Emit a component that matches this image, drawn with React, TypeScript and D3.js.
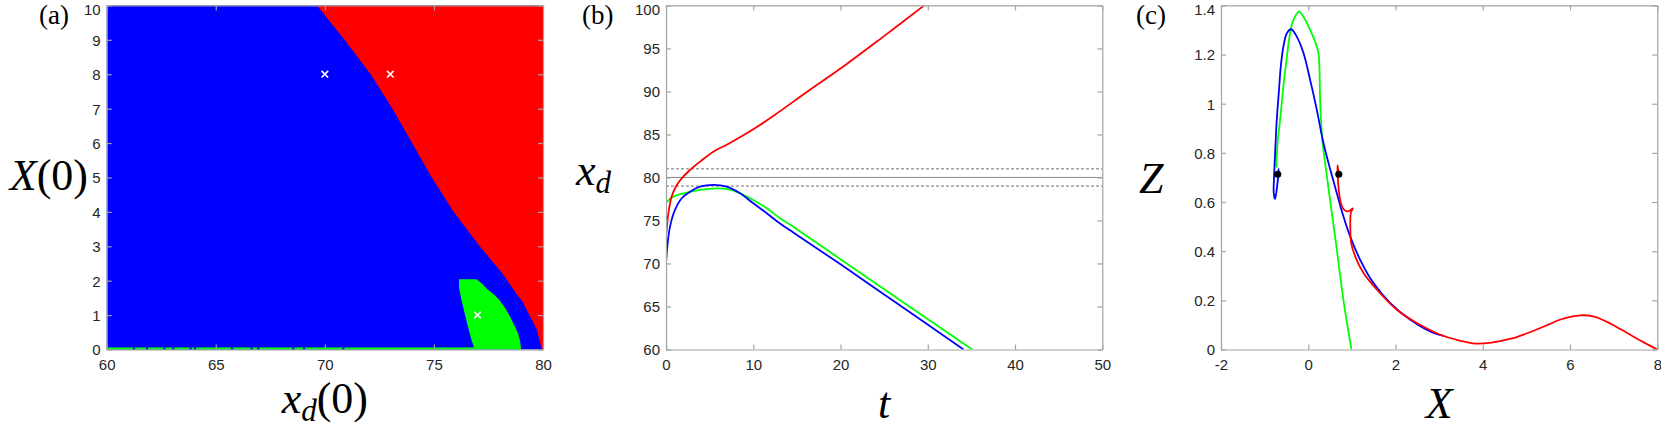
import React, { useEffect, useRef } from 'react';
import * as d3 from 'd3';

const W = 1661;
const H = 427;

// panel boxes (left edges), shared width / top / bottom
const panelLeft = [106.7, 666, 1221];
const panelW = 436.3;
const top = 5.4;
const bottom = 349.5;

// ---- (a) basins of attraction ----
const aXdTicks = [60, 65, 70, 75, 80];
const aXTicks = [0, 1, 2, 3, 4, 5, 6, 7, 8, 9, 10];
// red / blue border, listed from X(0)=10 down to 0
const redEdgeX0 = [10, 9, 8, 7, 6, 5, 4, 3, 2.2, 1.6, 1.4, 0.6, 0];
const redEdgeXd = [69.64, 70.9, 72.1, 73.1, 74.0, 74.9, 75.9, 77.1, 78.15, 78.8, 79.05, 79.7, 79.95];
// green island, clockwise from its top-left corner
const greenEdgeXd = [76.15, 76.95, 77.2, 77.45, 77.75, 78.0, 78.25, 78.45, 78.65, 78.85, 78.95, 79.0, 76.87, 76.72, 76.52, 76.26, 76.15];
const greenEdgeX0 = [2.04, 2.04, 1.92, 1.75, 1.6, 1.44, 1.22, 1.0, 0.75, 0.48, 0.25, 0, 0, 0.28, 0.76, 1.44, 1.8];
// thin green row at X(0)=0, with blue gaps
const stripEndXd = 76.9;
const stripGapsXd = [61.2, 61.8, 62.6, 63.0, 63.8, 64.0, 65.7, 66.6, 66.9, 68.5, 69.0, 70.8];
// initial conditions marked with white crosses
const markXd = [70, 73, 77];
const markX0 = [8, 8, 1];

// ---- (b) x_d(t) ----
const bTTicks = [0, 10, 20, 30, 40, 50];
const bXdTicks = [60, 65, 70, 75, 80, 85, 90, 95, 100];
const refLevels = [81, 80, 79];
const refDashed = [true, false, true];
const redT = [0, 0.27, 0.65, 1.22, 1.8, 2.75, 3.9, 5.42, 6.96, 8.86, 10.77, 12.37, 16.46, 20.56, 24.65, 29.6];
const redXd = [73.1, 75.8, 77.8, 79.1, 79.9, 80.87, 81.84, 83.0, 83.8, 84.9, 86.1, 87.2, 90.17, 93.08, 96.17, 100];
const blueT = [0, 0.15, 0.46, 1.03, 1.8, 2.75, 3.9, 5.42, 6.96, 8.48, 10.0, 11.54, 13.07, 14.59, 16.5, 20, 25, 34.1];
const blueXd = [70.0, 71.95, 74.28, 76.22, 77.58, 78.35, 78.93, 79.13, 78.93, 78.16, 77.0, 75.84, 74.65, 73.6, 72.3, 69.9, 66.4, 60];
const greenT = [0, 0.84, 2.37, 3.9, 5.81, 6.96, 8.48, 10.0, 11.54, 13.07, 14.59, 16.5, 20, 25, 35.1];
const greenXd = [77.07, 77.77, 78.23, 78.55, 78.74, 78.66, 78.16, 77.38, 76.42, 75.26, 74.28, 72.93, 70.5, 67.0, 60];

// ---- (c) phase plane (X, Z) ----
const cXTicks = [-2, 0, 2, 4, 6, 8];
const cZTicks = [0, 0.2, 0.4, 0.6, 0.8, 1, 1.2, 1.4];
const blueCX = [-0.70, -0.676, -0.715, -0.761, -0.791, -0.78, -0.753, -0.722, -0.676, -0.63, -0.57, -0.49, -0.393, -0.263, -0.11, 0.043, 0.196, 0.348, 0.5, 0.655, 0.807, 0.96, 1.19, 1.495, 1.88, 2.34, 2.87, 3.1];
const blueCZ = [0.715, 0.735, 0.663, 0.612, 0.636, 0.718, 0.826, 0.934, 1.043, 1.151, 1.232, 1.287, 1.303, 1.273, 1.206, 1.097, 0.975, 0.84, 0.735, 0.636, 0.541, 0.46, 0.365, 0.27, 0.189, 0.121, 0.067, 0.055];
const greenCX = [-0.73, -0.71, -0.646, -0.57, -0.49, -0.416, -0.34, -0.21, -0.11, 0.043, 0.157, 0.234, 0.256, 0.272, 0.31, 0.348, 0.5, 0.655, 0.807, 0.99];
const greenCZ = [0.74, 0.826, 0.934, 1.07, 1.192, 1.287, 1.341, 1.375, 1.354, 1.30, 1.253, 1.206, 1.151, 1.016, 0.88, 0.812, 0.609, 0.406, 0.2, 0];
const redCX = [0.70, 0.672, 0.685, 0.73, 0.793, 0.885, 0.96, 1.02, 0.975, 0.965, 0.984, 1.075, 1.266, 1.574, 2.03, 2.49, 3.03, 3.43, 3.84, 4.2, 4.67, 5.0, 5.49, 5.78, 6.24, 6.55, 6.93, 7.31, 7.69, 8.0];
const redCZ = [0.715, 0.75, 0.677, 0.609, 0.575, 0.562, 0.566, 0.574, 0.555, 0.487, 0.433, 0.379, 0.311, 0.243, 0.162, 0.108, 0.06, 0.038, 0.024, 0.028, 0.045, 0.065, 0.1, 0.122, 0.139, 0.134, 0.105, 0.067, 0.029, 0];
const dotCX = [-0.7, 0.7];
const dotCZ = [0.713, 0.713];

const RED = '#ff0000';
const BLUE = '#0000ff';
const GREEN = '#00ff00';
const AXIS = '#a3a3a3';
const TXT = '#262626';
const SANS = '"Liberation Sans", Arial, Helvetica, sans-serif';
const SERIF = '"Liberation Serif", "Times New Roman", serif';

type Sel = d3.Selection<SVGGElement, unknown, null, undefined>;

function drawAxes(g: Sel, x: d3.ScaleLinear<number, number>, y: d3.ScaleLinear<number, number>,
                  xt: number[], yt: number[]) {
  const tk = 5;
  const fmt = (d: d3.NumberValue) => String(d);
  const parts = [
    g.append('g').attr('transform', `translate(0,${bottom})`)
      .call(d3.axisBottom(x).tickValues(xt).tickSizeInner(-tk).tickSizeOuter(0).tickPadding(10).tickFormat(fmt)),
    g.append('g').attr('transform', `translate(0,${top})`)
      .call(d3.axisTop(x).tickValues(xt).tickSizeInner(-tk).tickSizeOuter(0).tickFormat(() => '')),
    g.append('g').attr('transform', `translate(${x.range()[0]},0)`)
      .call(d3.axisLeft(y).tickValues(yt).tickSizeInner(-tk).tickSizeOuter(0).tickPadding(6).tickFormat(fmt)),
    g.append('g').attr('transform', `translate(${x.range()[1]},0)`)
      .call(d3.axisRight(y).tickValues(yt).tickSizeInner(-tk).tickSizeOuter(0).tickFormat(() => '')),
  ];
  parts.forEach(p => {
    p.attr('font-family', SANS).attr('font-size', 15);
    p.selectAll('.domain').attr('stroke', AXIS).attr('stroke-width', 1.2);
    p.selectAll('.tick line').attr('stroke', AXIS).attr('stroke-width', 1.2);
    p.selectAll('.tick text').attr('fill', TXT);
  });
  // y labels centred on ticks; the top one is nudged so it stays inside the page
  const last = yt[yt.length - 1];
  parts[2].selectAll<SVGTextElement, number>('.tick text')
    .attr('dy', d => (d === last ? '0.6em' : '0.36em'));
}

function label(svg: d3.Selection<SVGSVGElement, unknown, null, undefined>, x: number, y: number,
               anchor: string, pieces: [string, boolean, number][]) {
  // pieces: text, italic, subscript shift
  const t = svg.append('text').attr('x', x).attr('y', y).attr('text-anchor', anchor)
    .attr('font-family', SERIF).attr('font-size', 44).attr('fill', '#000');
  let shift = 0;
  pieces.forEach(([s, it, sub]) => {
    t.append('tspan').text(s)
      .attr('font-style', it ? 'italic' : 'normal')
      .attr('font-size', sub ? 31 : 44)
      .attr('dy', sub - shift);
    shift = sub;
  });
}

export default function App() {
  const ref = useRef<SVGSVGElement>(null);

  useEffect(() => {
    const svg = d3.select(ref.current as SVGSVGElement);
    svg.selectAll('*').remove();

    const xr = (i: number) => [panelLeft[i], panelLeft[i] + panelW];
    const line = d3.line<[number, number]>().curve(d3.curveCatmullRom.alpha(0.5));
    const zip = (a: number[], b: number[]) => a.map((v, i) => [v, b[i]] as [number, number]);

    // clip paths for (b) and (c)
    const defs = svg.append('defs');
    [1, 2].forEach(i => {
      defs.append('clipPath').attr('id', `clip${i}`).append('rect')
        .attr('x', panelLeft[i]).attr('y', top).attr('width', panelW).attr('height', bottom - top);
    });

    // ---------- (a) ----------
    const xa = d3.scaleLinear().domain([60, 80]).range(xr(0));
    const ya = d3.scaleLinear().domain([0, 10]).range([bottom, top]);
    const ga = svg.append('g');
    ga.append('rect').attr('x', xa(60)).attr('y', ya(10))
      .attr('width', xa(80) - xa(60)).attr('height', ya(0) - ya(10)).attr('fill', BLUE);

    const poly = d3.line<[number, number]>().x(d => xa(d[0])).y(d => ya(d[1]));
    const redPoly = zip(redEdgeXd, redEdgeX0).concat([[80, 0], [80, 10]]);
    ga.append('path').attr('d', poly(redPoly) + 'Z').attr('fill', RED);
    ga.append('path').attr('d', poly(zip(greenEdgeXd, greenEdgeX0)) + 'Z').attr('fill', GREEN);
    ga.append('rect').attr('x', xa(60)).attr('y', ya(0.06))
      .attr('width', xa(stripEndXd) - xa(60)).attr('height', ya(0) - ya(0.06)).attr('fill', GREEN);
    ga.selectAll('rect.gap').data(stripGapsXd).enter().append('rect')
      .attr('x', d => xa(d)).attr('y', ya(0.06))
      .attr('width', xa(60.1) - xa(60)).attr('height', ya(0) - ya(0.06)).attr('fill', BLUE);
    const cross = 3.3;
    markXd.forEach((v, i) => {
      const cx = xa(v), cy = ya(markX0[i]);
      ga.append('path')
        .attr('d', `M${cx - cross},${cy - cross}L${cx + cross},${cy + cross}M${cx - cross},${cy + cross}L${cx + cross},${cy - cross}`)
        .attr('stroke', '#fff').attr('stroke-width', 1.6);
    });
    drawAxes(ga, xa, ya, aXdTicks, aXTicks);

    // ---------- (b) ----------
    const xb = d3.scaleLinear().domain([0, 50]).range(xr(1));
    const yb = d3.scaleLinear().domain([60, 100]).range([bottom, top]);
    const gb = svg.append('g');
    refLevels.forEach((v, i) => {
      gb.append('line').attr('x1', xb(0)).attr('x2', xb(50)).attr('y1', yb(v)).attr('y2', yb(v))
        .attr('stroke', refDashed[i] ? '#6e6e6e' : '#8c8c8c').attr('stroke-width', 1)
        .attr('stroke-dasharray', refDashed[i] ? '3,2' : null);
    });
    const lb = gb.append('g').attr('clip-path', 'url(#clip1)');
    const series: [number[], number[], string][] = [[greenT, greenXd, GREEN], [blueT, blueXd, BLUE], [redT, redXd, RED]];
    series.forEach(([t, v, c]) => {
      lb.append('path').attr('d', line(zip(t, v).map(d => [xb(d[0]), yb(d[1])]))!)
        .attr('fill', 'none').attr('stroke', c).attr('stroke-width', 1.8);
    });
    drawAxes(gb, xb, yb, bTTicks, bXdTicks);

    // ---------- (c) ----------
    const xc = d3.scaleLinear().domain([-2, 8]).range(xr(2));
    const yc = d3.scaleLinear().domain([0, 1.4]).range([bottom, top]);
    const gc = svg.append('g');
    const lc = gc.append('g').attr('clip-path', 'url(#clip2)');
    const cSeries: [number[], number[], string][] = [[greenCX, greenCZ, GREEN], [blueCX, blueCZ, BLUE], [redCX, redCZ, RED]];
    cSeries.forEach(([a, b, c]) => {
      lc.append('path').attr('d', line(zip(a, b).map(d => [xc(d[0]), yc(d[1])]))!)
        .attr('fill', 'none').attr('stroke', c).attr('stroke-width', 1.8);
    });
    gc.selectAll('circle').data(zip(dotCX, dotCZ)).enter().append('circle')
      .attr('cx', d => xc(d[0])).attr('cy', d => yc(d[1])).attr('r', 3.6).attr('fill', '#000');
    drawAxes(gc, xc, yc, cXTicks, cZTicks);

    // ---------- labels ----------
    label(svg, 88, 190, 'end', [['X', true, 0], ['(0)', false, 0]]);
    label(svg, (xa(60) + xa(80)) / 2, 413, 'middle', [['x', true, 0], ['d', true, 8], ['(0)', false, 0]]);
    label(svg, 576, 185, 'start', [['x', true, 0], ['d', true, 8]]);
    label(svg, (xb(0) + xb(50)) / 2, 418, 'middle', [['t', true, 0]]);
    label(svg, 1139, 193, 'start', [['Z', true, 0]]);
    label(svg, (xc(-2) + xc(8)) / 2, 418, 'middle', [['X', true, 0]]);

    const tags = ['(a)', '(b)', '(c)'];
    const tagX = [39, 582, 1136];
    tags.forEach((s, i) => {
      svg.append('text').attr('x', tagX[i]).attr('y', 24).text(s)
        .attr('font-family', SERIF).attr('font-size', 27).attr('fill', '#000');
    });
  }, []);

  return (
    <svg ref={ref} width={W} height={H}
         style={{ position: 'absolute', left: 0, top: 0, background: '#fff' }} />
  );
}
